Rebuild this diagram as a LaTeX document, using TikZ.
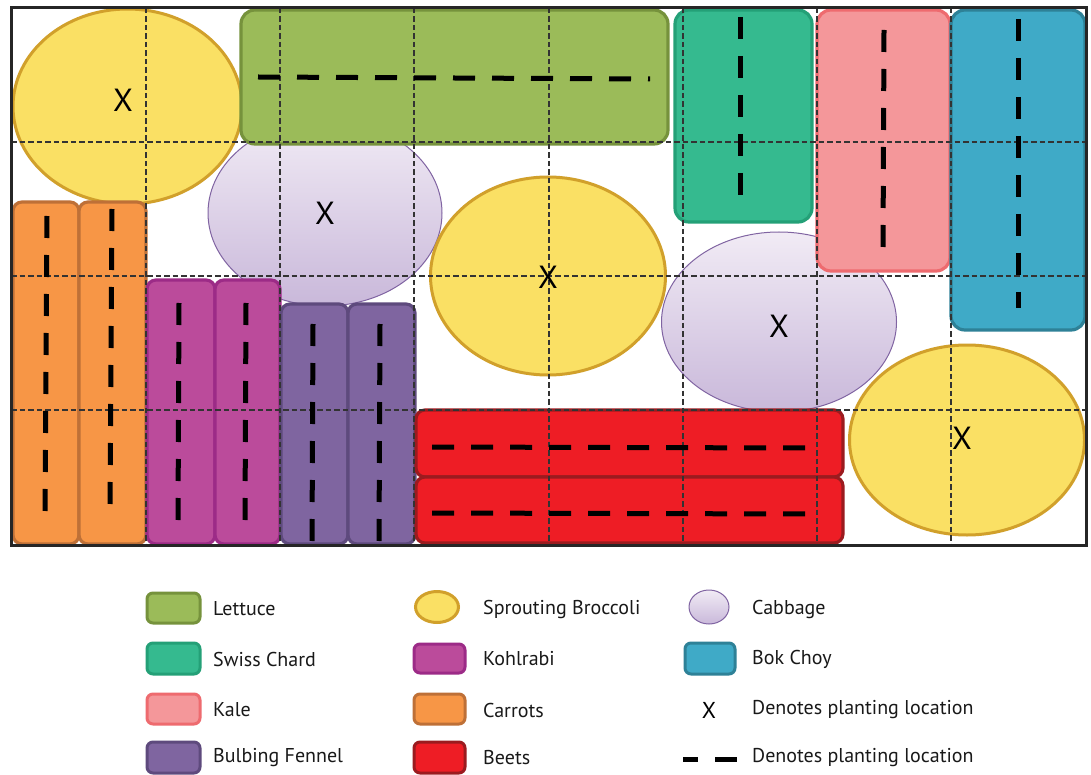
\documentclass[tikz,border=0pt]{standalone}
\usepackage{fontspec}
\setmainfont{PT Sans}
\begin{document}
\begin{tikzpicture}[x=1pt,y=-1pt,
  bed/.style={line width=3.2pt, rounded corners=14pt},
  nbed/.style={line width=3.2pt, rounded corners=9pt},
  lettuce/.style={fill=lettF, draw=lettD},
  chard/.style={fill=chardF, draw=chardD},
  kale/.style={fill=kaleF, draw=kaleD},
  bok/.style={fill=bokF, draw=bokD},
  carrot/.style={fill=carF, draw=carD},
  kohl/.style={fill=kohF, draw=kohD},
  fennel/.style={fill=fenF, draw=fenD},
  beet/.style={fill=beetF, draw=beetD},
  brocc/.style={fill=brocF, draw=brocD, line width=3pt},
  cabb/.style={top color=cabT, bottom color=cabB, draw=cabD, line width=1pt},
  rowline/.style={line width=5pt, dash pattern=on 22pt off 17pt, black},
  grid/.style={draw=gridC, line width=1.1pt, dash pattern=on 5.5pt off 3pt},
  xmark/.style={font=\fontsize{32}{32}\selectfont, inner sep=0pt},
  leg/.style={anchor=west, font=\fontsize{20}{22}\selectfont, inner sep=0pt, text=black!90},
  legicon/.style={line width=3pt, rounded corners=6pt}
]
\definecolor{lettF}{HTML}{9BBB59}\definecolor{lettD}{HTML}{76923C}
\definecolor{chardF}{HTML}{35BA8F}\definecolor{chardD}{HTML}{24A077}
\definecolor{kaleF}{HTML}{F4979A}\definecolor{kaleD}{HTML}{EE6B6F}
\definecolor{bokF}{HTML}{3FAAC7}\definecolor{bokD}{HTML}{2E8197}
\definecolor{carF}{HTML}{F79646}\definecolor{carD}{HTML}{BE7037}
\definecolor{kohF}{HTML}{BB4B9B}\definecolor{kohD}{HTML}{9C2B87}
\definecolor{fenF}{HTML}{7F65A0}\definecolor{fenD}{HTML}{5E4A7D}
\definecolor{beetF}{HTML}{EE1D25}\definecolor{beetD}{HTML}{9B1B1F}
\definecolor{brocF}{HTML}{FAE064}\definecolor{brocD}{HTML}{D1A02B}
\definecolor{cabT}{HTML}{F1EBF5}\definecolor{cabB}{HTML}{C9B8DA}\definecolor{cabD}{HTML}{8064A2}
\definecolor{gridC}{HTML}{333333}

\useasboundingbox (0,0) rectangle (1091,775);
\fill[white] (0,0) rectangle (1091,775);

% cabbages
\draw[cabb] (325,213) ellipse [x radius=117, y radius=93];
\draw[cabb] (779,322) ellipse [x radius=117.5, y radius=90];
% broccoli
\draw[brocc] (127.5,106.5) ellipse [x radius=114.5, y radius=97.5];
\draw[brocc] (548,276) ellipse [x radius=117.5, y radius=99];
\draw[brocc] (967,440) ellipse [x radius=117.5, y radius=95];

% beds
\draw[bed,lettuce] (241,10) rectangle (668,144);
\draw[bed,chard] (675,10) rectangle (812,222);
\draw[bed,kale] (817,10) rectangle (950,271);
\draw[bed,bok] (951,10) rectangle (1085,330);
\draw[nbed,carrot] (13,202) rectangle (79,544);
\draw[nbed,carrot] (79,202) rectangle (146,544);
\draw[nbed,kohl] (147,280) rectangle (215,544);
\draw[nbed,kohl] (215,280) rectangle (280,544);
\draw[nbed,fennel] (281,304) rectangle (348,544);
\draw[nbed,fennel] (348,304) rectangle (415,544);
\draw[nbed,beet] (416,410) rectangle (843,477);
\draw[nbed,beet] (416,477) rectangle (843,543);

% grid
\foreach \gx in {146,280,414,549,683,817,951}
  \draw[grid] (\gx,8) -- (\gx,545);
\foreach \gy in {142,276,410}
  \draw[grid] (11,\gy) -- (1086,\gy);

% planting rows
\draw[rowline] (258,77) -- (650,79);
\draw[rowline] (740,17) -- (740,199);
\draw[rowline] (884,30) -- (883,250);
\draw[rowline] (1018,19) -- (1018,308);
\draw[rowline] (47,216) -- (45,514);
\draw[rowline] (112,209) -- (110,507);
\draw[rowline] (179,303) -- (178,522);
\draw[rowline] (246,303) -- (245,522);
\draw[rowline] (313,324) -- (312,544);
\draw[rowline] (380,324) -- (379,544);
\draw[rowline] (432,447) -- (808,448);
\draw[rowline] (432,513) -- (808,514);

% X marks
\node[xmark] (x1) at (123,100) {X};
\node[xmark] (x2) at (325,213) {X};
\node[xmark] (x3) at (548,277) {X};
\node[xmark] (x4) at (779,326) {X};
\node[xmark] (x5) at (962,438) {X};

% frame
\draw[line width=3pt, draw=black!85] (11,8) rectangle (1086,545);

% legend column 1
\draw[legicon,lettuce] (147,593) rectangle (200,623);
\node[leg] (l1) at (213,609) {Lettuce};
\draw[legicon,chard] (147,643) rectangle (200,674);
\node[leg] (l2) at (213,659) {Swiss Chard};
\draw[legicon,kale] (147,694) rectangle (200,724);
\node[leg] (l3) at (213,710) {Kale};
\draw[legicon,fennel] (147,742) rectangle (200,773);
\node[leg] (l4) at (213,758) {Bulbing Fennel};
% legend column 2
\draw[brocc] (437,607) ellipse [x radius=21.5, y radius=15.5];
\node[leg] (l5) at (483,609) {Sprouting Broccoli};
\draw[legicon,kohl] (414,644) rectangle (465,673);
\node[leg] (l6) at (483,659) {Kohlrabi};
\draw[legicon,carrot] (414,694) rectangle (465,724);
\node[leg] (l7) at (483,710) {Carrots};
\draw[legicon,beet] (414,742) rectangle (465,773);
\node[leg] (l8) at (483,758) {Beets};
% legend column 3
\draw[cabb] (709,607) ellipse [x radius=20, y radius=17];
\node[leg] (l9) at (752,609) {Cabbage};
\draw[legicon,bok] (685,643) rectangle (735,674);
\node[leg] (l10) at (752,659) {Bok Choy};
\node[inner sep=0pt, font=\fontsize{23}{23}\selectfont] (lx) at (709,710) {X};
\node[leg] (l11) at (752,710) {Denotes planting location};
\draw[line width=5pt] (683,759) -- (698,759);
\draw[line width=5pt] (715,759) -- (737,759);
\node[leg] (l12) at (752,758) {Denotes planting location};
\end{tikzpicture}
\end{document}
